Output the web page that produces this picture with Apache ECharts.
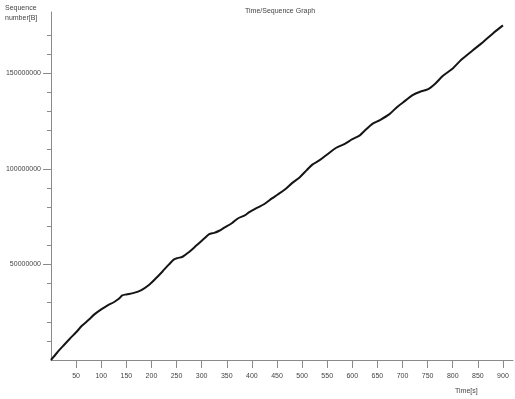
<!DOCTYPE html>
<html>
<head>
<meta charset="utf-8">
<script src="https://cdn.jsdelivr.net/npm/echarts@6/dist/echarts.min.js"></script>
<style>html,body{margin:0;padding:0;background:#fff}#c{width:515px;height:399px}</style>
</head>
<body>
<div id="c"></div>
<script>
var times = [0, 12, 25, 37, 50, 62, 75, 87, 100, 112, 125, 135, 142, 150, 165, 180, 195, 210, 222, 235, 245, 252, 262, 275, 290, 305, 315, 325, 335, 345, 360, 372, 385, 395, 410, 425, 440, 450, 465, 480, 495, 510, 521, 535, 550, 568, 585, 600, 615, 625, 640, 655, 674, 690, 705, 720, 735, 750, 765, 780, 800, 817, 840, 860, 880, 900];
var seqValues = [0, 3.8, 7.6, 11, 14.5, 18, 21, 24, 26.5, 28.5, 30.2, 32, 33.8, 34.3, 35.1, 36.6, 39.2, 43, 46.3, 50, 52.6, 53.3, 54, 56.5, 60, 63.5, 65.8, 66.5, 67.6, 69.2, 71.5, 74, 75.5, 77.3, 79.5, 81.6, 84.5, 86.3, 89, 92.5, 95.5, 99.5, 102.3, 104.5, 107.5, 111, 113, 115.5, 117.5, 120, 123.5, 125.5, 128.6, 132.5, 135.5, 138.5, 140.3, 141.5, 144.5, 148.5, 152.5, 157, 162, 166.2, 170.8, 175];
var xTickLabels = [50, 100, 150, 200, 250, 300, 350, 400, 450, 500, 550, 600, 650, 700, 750, 800, 850, 900];
var yTickLabels = [50000000, 100000000, 150000000];
var yMinorTicks = [10000000, 20000000, 30000000, 40000000, 60000000, 70000000, 80000000, 90000000, 110000000, 120000000, 130000000, 140000000, 160000000, 170000000];

var data = times.map(function (t, i) { return [t, seqValues[i] * 1000000]; });
var font = 'Liberation Sans';
var chart = echarts.init(document.getElementById('c'), null, {renderer: 'canvas'});
chart.setOption({
  animation: false,
  backgroundColor: '#fff',
  grid: {left: 51, right: 2, top: 12, bottom: 39},
  xAxis: {
    type: 'value', min: 0, max: 920,
    axisLine: {lineStyle: {color: '#8a8a8a', width: 1}},
    axisTick: {customValues: xTickLabels, length: 8, lineStyle: {color: '#8a8a8a'}},
    axisLabel: {customValues: xTickLabels, margin: 13, fontSize: 7, fontFamily: font, color: '#444',
      formatter: function (v) { return String(v); }},
    splitLine: {show: false}
  },
  yAxis: [{
    type: 'value', min: 0, max: 182000000,
    axisLine: {show: true, lineStyle: {color: '#8a8a8a', width: 1}},
    axisTick: {show: true, customValues: yTickLabels, length: 8, lineStyle: {color: '#8a8a8a'}},
    axisLabel: {customValues: yTickLabels, margin: 10, fontSize: 7, fontFamily: font, color: '#444',
      formatter: function (v) { return String(v); }},
    splitLine: {show: false}
  }, {
    type: 'value', min: 0, max: 182000000, position: 'left',
    axisLine: {show: false},
    axisTick: {show: true, customValues: yMinorTicks, length: 4, lineStyle: {color: '#8a8a8a'}},
    axisLabel: {show: false},
    splitLine: {show: false}
  }],
  graphic: [
    {type: 'text', left: 245, top: 8, style: {text: 'Time/Sequence Graph', fontSize: 7, fontFamily: font, fill: '#444'}},
    {type: 'text', left: 5, top: 3, style: {text: 'Sequence\nnumber[B]', fontSize: 7, lineHeight: 10, fontFamily: font, fill: '#444'}},
    {type: 'text', left: 455, top: 388, style: {text: 'Time[s]', fontSize: 7, fontFamily: font, fill: '#444'}}
  ],
  series: [{
    type: 'line', data: data, showSymbol: false, smooth: 0.3,
    lineStyle: {color: '#151515', width: 2}
  }]
});
</script>
</body>
</html>
